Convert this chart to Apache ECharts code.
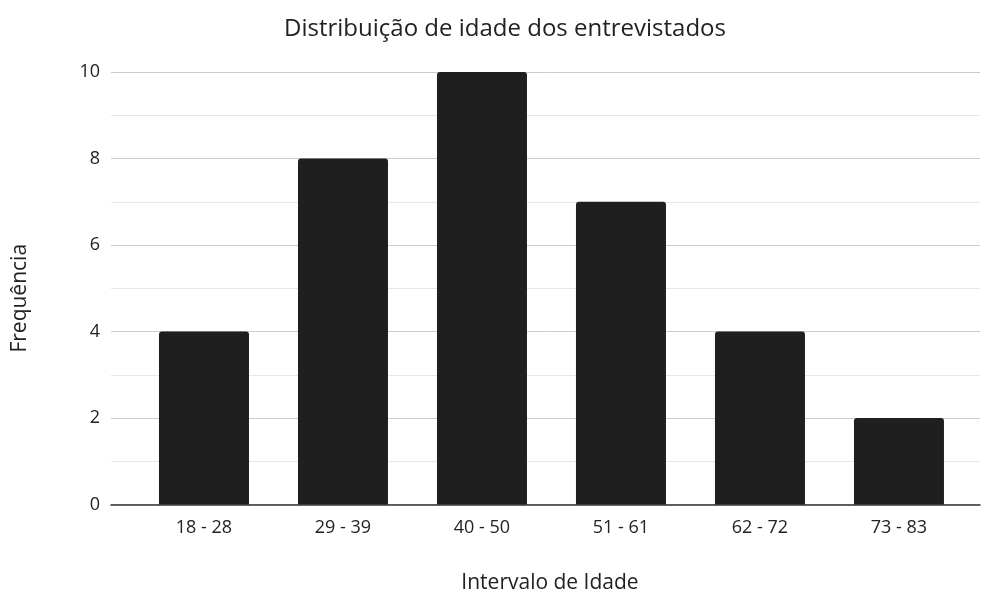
<!DOCTYPE html>
<html>
<head>
<meta charset="utf-8">
<script src="https://cdn.jsdelivr.net/npm/echarts@6/dist/echarts.min.js"></script>
<style>
  html, body { margin: 0; padding: 0; background: #fff; }
  #chart { width: 981px; height: 593px; }
</style>
</head>
<body>
<div id="chart"></div>
<script>
// faixas etárias e frequência
const categories = ['18 - 28', '29 - 39', '40 - 50', '51 - 61', '62 - 72', '73 - 83'];
const frequencia = [4, 8, 10, 7, 4, 2];
const yTicks = [0, 2, 4, 6, 8, 10];

const font = '"Open Sans", "Noto Sans", sans-serif';

const chart = echarts.init(document.getElementById('chart'));
chart.setOption({
  animation: false,
  backgroundColor: '#fff',
  title: {
    text: 'Distribuição de idade dos entrevistados',
    left: 500,
    textAlign: 'center',
    top: 12,
    textStyle: { fontFamily: font, fontSize: 24, fontWeight: 'normal', color: '#222' }
  },
  grid: { left: 111, right: 1, top: 72, bottom: 88.5, outerBoundsMode: 'none', containLabel: false },
  xAxis: {
    type: 'value',
    min: -0.669,
    max: 5.583,
    name: 'Intervalo de Idade',
    nameLocation: 'middle',
    nameGap: 68,
    nameTextStyle: { fontFamily: font, fontSize: 21, color: '#222', padding: [0, 0, 0, 9] },
    axisLine: { show: true, lineStyle: { color: '#333', width: 1.5 } },
    axisTick: { show: false },
    splitLine: { show: false },
    axisLabel: {
      customValues: categories.map((c, i) => i),
      formatter: v => categories[Math.round(v)],
      fontFamily: font, fontSize: 18, color: '#222', margin: 14
    }
  },
  yAxis: {
    type: 'value',
    min: yTicks[0],
    max: yTicks[yTicks.length - 1],
    interval: 2,
    name: 'Frequência',
    nameLocation: 'middle',
    nameRotate: 90,
    nameGap: 80,
    nameTextStyle: { fontFamily: font, fontSize: 21, color: '#222', padding: [0, 20, 0, 0] },
    axisLine: { show: false },
    axisTick: { show: false },
    axisLabel: { fontFamily: font, fontSize: 18, color: '#222', margin: 11 },
    splitLine: { lineStyle: { color: '#cccccc', width: 1 } },
    minorTick: { show: false, splitNumber: 2 },
    minorSplitLine: { show: true, lineStyle: { color: '#e6e6e6', width: 1 } }
  },
  series: [{
    type: 'bar',
    data: frequencia.map((v, i) => [i, v]),
    barWidth: 90,
    itemStyle: { color: '#1f1f1f', borderRadius: [3, 3, 0, 0] }
  }]
});
</script>
</body>
</html>
